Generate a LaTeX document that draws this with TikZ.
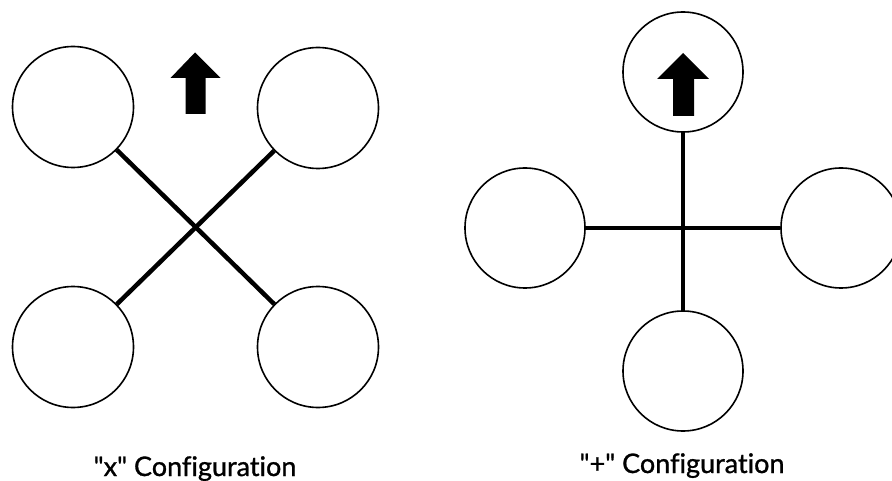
\documentclass[tikz,border=0pt]{standalone}
\usepackage{fontspec}
\setmainfont{Lato}[Ligatures={NoCommon}]
\newfontfamily\lblfont{Lato}[Ligatures={NoCommon},FakeBold=1]
\begin{document}
\begin{tikzpicture}[x=1pt,y=-1pt,
  rotor/.style={circle,draw=black,line width=1.6pt,minimum size=121pt,inner sep=0pt},
  arm/.style={line width=4.5pt},
  lbl/.style={font=\lblfont\fontsize{27}{32}\selectfont,anchor=base}]
\useasboundingbox (0,0) rectangle (892,481);
\clip (0,0) rectangle (892,481);
% x configuration
\node[rotor] (tl) at (73,107) {};
\node[rotor] (tr) at (318,108) {};
\node[rotor] (bl) at (73,347) {};
\node[rotor] (br) at (318,347) {};
\draw[arm] (tl) -- (br);
\draw[arm] (tr) -- (bl);
\fill (195,52.5) -- (220.5,78) -- (205.5,78) -- (205.5,114) -- (185.5,114) -- (185.5,78) -- (170.5,78) -- cycle;
\node[lbl] (xl) at (195,476) {\symbol{34}x\symbol{34} Configuration};
% + configuration
\node[rotor,minimum size=120pt] (pt) at (683,72) {};
\node[rotor,minimum size=120pt] (pl) at (525,228) {};
\node[rotor,minimum size=120pt] (pr) at (841,228) {};
\node[rotor,minimum size=120pt] (pb) at (683,371) {};
\draw[arm] (pt) -- (pb);
\draw[arm] (pl) -- (pr);
\fill (683,53) -- (709,79) -- (694,79) -- (694,116) -- (673,116) -- (673,79) -- (657,79) -- cycle;
\node[lbl] (pl2) at (682,473) {\symbol{34}+\symbol{34} Configuration};
\end{tikzpicture}
\end{document}
